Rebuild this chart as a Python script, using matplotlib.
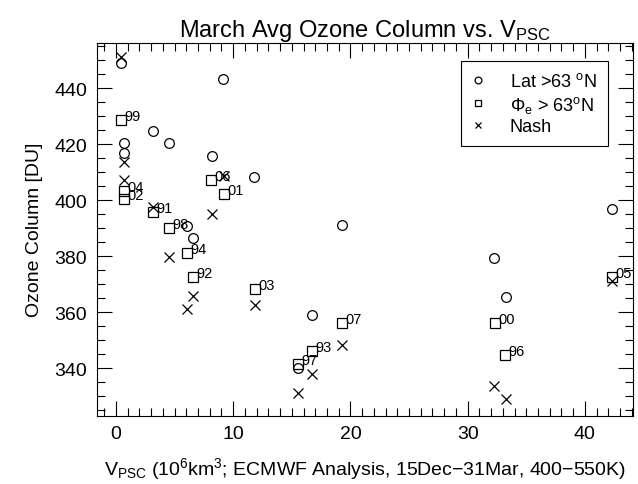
import matplotlib
matplotlib.use('Agg')
import matplotlib.pyplot as plt
from matplotlib.ticker import MultipleLocator

plt.rcParams['font.family'] = ['Liberation Sans', 'DejaVu Sans']
plt.rcParams['mathtext.fontset'] = 'custom'
plt.rcParams['mathtext.rm'] = 'Liberation Sans'
plt.rcParams['mathtext.it'] = 'Liberation Sans:italic'

# Lat > 63N (circles)
lat_v = [0.43, 9.15, 3.13, 4.52, 0.65, 0.65, 8.16, 11.8, 6.03, 6.56,
         19.24, 16.7, 15.5, 32.25, 33.25, 42.34]
lat_o3 = [449.0, 443.3, 424.9, 420.4, 420.4, 416.9, 415.7, 408.2, 390.7, 386.4,
          391.1, 359.1, 340.1, 379.5, 365.4, 396.8]

# Phi_e > 63N (squares), with year labels
years = ['99', '04', '02', '06', '01', '91', '98', '94', '92', '03',
         '07', '93', '97', '00', '96', '05']
eq_v = [0.43, 0.65, 0.65, 8.13, 9.2, 3.18, 4.52, 6.03, 6.56, 11.85,
        19.27, 16.7, 15.55, 32.3, 33.2, 42.3]
eq_o3 = [428.5, 403.3, 400.3, 407.3, 402.4, 395.9, 390.0, 381.0, 372.7, 368.3,
         356.1, 346.3, 341.6, 356.1, 344.8, 372.6]

# Nash vortex edge (crosses)
nash_v = [0.43, 0.65, 0.65, 9.23, 3.13, 8.16, 4.52, 6.56, 6.03, 11.85,
          19.24, 16.7, 15.5, 32.25, 33.25, 42.34]
nash_o3 = [451.0, 413.7, 407.1, 408.5, 397.6, 395.0, 379.6, 365.8, 361.1, 362.6,
           348.4, 338.1, 331.2, 333.6, 329.2, 371.2]

fig = plt.figure(figsize=(6.38, 4.85), dpi=100)
ax = fig.add_axes([0.1515, 0.141, 0.8405, 0.769])

ax.plot(lat_v, lat_o3, 'o', mfc='none', mec='black', ms=7, mew=0.9,
        ls='none', label=r'Lat >63 $^{\rm o}$N')
ax.plot(eq_v, eq_o3, 's', mfc='none', mec='black', ms=7, mew=0.9,
        ls='none', label=r'$\Phi_{\rm e}$ > 63$^{\rm o}$N')
ax.plot(nash_v, nash_o3, 'x', color='black', ms=7, mew=0.9,
        ls='none', label='Nash')

for v, o3, yr in zip(eq_v, eq_o3, years):
    ax.annotate(yr, (v, o3), xytext=(2.5, 0), textcoords='offset points',
                ha='left', va='baseline', fontsize=10.5)

ax.set_xlim(-1.65, 44.1)
ax.set_ylim(323.1, 456.3)
ax.xaxis.set_major_locator(MultipleLocator(10))
ax.xaxis.set_minor_locator(MultipleLocator(1))
ax.yaxis.set_major_locator(MultipleLocator(20))
ax.yaxis.set_minor_locator(MultipleLocator(5))
ax.tick_params(which='both', direction='in', top=True, right=True,
               labelsize=14, width=0.8)
ax.tick_params(which='major', length=11, pad=7)
ax.tick_params(which='minor', length=5.5)

ax.set_title(r'March Avg Ozone Column vs. V$_{\rm PSC}$', fontsize=17, pad=3)
ax.set_xlabel(r'V$_{\rm PSC}$ (10$^{\rm 6}$km$^{\rm 3}$; ECMWF Analysis, '
              '15Dec\u221231Mar, 400\u2212550K)', fontsize=14, labelpad=9)
ax.set_ylabel('Ozone Column [DU]', fontsize=14, labelpad=8)

leg = ax.legend(loc='upper right', bbox_to_anchor=(0.953, 0.95),
                fontsize=13, markerscale=0.7, handlelength=0.7,
                handletextpad=1.4, labelspacing=0.2, borderpad=0.6,
                borderaxespad=0, fancybox=False, framealpha=1,
                edgecolor='black')
leg.get_frame().set_linewidth(0.8)

fig.savefig('out.png', dpi=100)
